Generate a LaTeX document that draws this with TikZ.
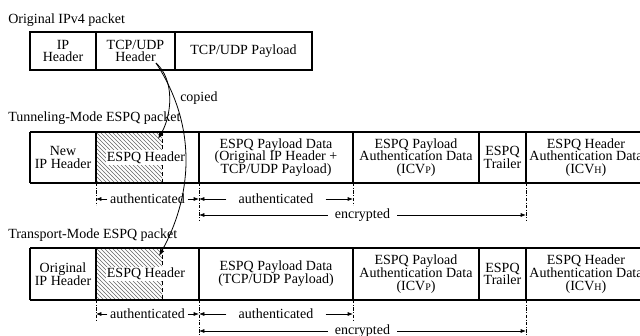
\documentclass[tikz,border=0pt]{standalone}
\usepackage{fontspec}
\setmainfont{Liberation Serif}
\usetikzlibrary{arrows.meta,patterns}
\newcommand\icvsub[1]{{\fontsize{7.5}{8}\selectfont #1}}

\begin{document}
\begin{tikzpicture}[x=0.75pt,y=0.75pt,yscale=-1,xscale=1,
    font=\fontsize{10.5}{9.6}\selectfont,
    box/.style={line width=1.3pt},
    txt/.style={align=center,inner sep=0pt},
    hdr/.style={anchor=west,inner sep=0pt},
    lbl/.style={inner ysep=0pt,inner xsep=2pt},
    guide/.style={line width=0.5pt,dash pattern=on 2.5pt off 1.2pt on 0.6pt off 1.2pt},
    tip/.style={line width=0.5pt,-{Latex[length=4pt,width=3pt]}},
    hatch/.style={pattern=north west lines,pattern color=black!60},
    cpy/.style={line width=0.6pt,-{Latex[length=5pt,width=3.5pt]}}]
        \useasboundingbox (0,0) rectangle (640,336);

        % Hatched part of the headers
        \fill [hatch] (96,132) rectangle (162,183);
        \draw [line width=0.6pt,densely dashed] (162,132) -- (162,183);
        \fill [hatch] (96,248) rectangle (162,300);
        \draw [line width=0.6pt,densely dashed] (162,248) -- (162,300);

        % Original IPv4 packet
        \node [hdr] (orig) at (8,20) {Original IPv4 packet};
        \draw [box] (30,32) rectangle (312,70);
        \draw [box] (96,32) -- (96,70) (175,32) -- (175,70);
        \node [txt] (iphdr) at (63,51) {IP\\Header};
        \node [txt] (tcphdr) at (135.5,51) {TCP/UDP\\Header};
        \node [txt] (tcppay) at (243.5,51) {TCP/UDP Payload};
        \coordinate (cpysrc) at (156,63);
        \node [hdr] (copied) at (180,98) {copied};

        % Tunneling-Mode ESPQ packet
        \node [hdr] (tun) at (8,118) {Tunneling-Mode ESPQ packet};
        \draw [box] (30,132) -- (646,132) (30,183) -- (646,183) (30,132) -- (30,183);
        \draw [box] (96,132) -- (96,183) (199,132) -- (199,183) (353,132) -- (353,183)
                    (479,132) -- (479,183) (526,132) -- (526,183);
        \node [txt] (newip) at (63,157.5) {New\\IP Header};
        \node [txt,fill=white,inner sep=1pt] (tespq) at (146,157.5) {ESPQ Header};
        \node [txt] (tpay) at (276,157.5) {ESPQ Payload Data\\(Original IP Header +\\TCP/UDP Payload)};
        \node [txt] (ticvp) at (416,157.5) {ESPQ Payload\\Authentication Data\\(ICV\icvsub{P})};
        \node [txt] (ttrl) at (502.5,157.5) {ESPQ\\Trailer};
        \node [txt] (ticvh) at (586,157.5) {ESPQ Header\\Authentication Data\\(ICV\icvsub{H})};
        \coordinate (ta) at (96,183);
        \coordinate (tb) at (199,183);
        \coordinate (tc) at (353,183);
        \coordinate (td) at (526,183);
        \draw [guide] (ta) -- ++(0,22) (tc) -- ++(0,22);
        \draw [guide] (tb) -- ++(0,37) (td) -- ++(0,37);
        \node [lbl] (tau1) at (147.5,199) {authenticated};
        \draw [tip] (tau1.west) -- (tau1.west -| ta);
        \draw [tip] (tau1.east) -- (tau1.east -| tb);
        \node [lbl,inner xsep=9pt] (tau2) at (276,199) {authenticated};
        \draw [tip] (tau2.west) -- (tau2.west -| tb);
        \draw [tip] (tau2.east) -- (tau2.east -| tc);
        \node [lbl,inner xsep=5pt] (tenc) at (362.5,215) {encrypted};
        \draw [tip] (tenc.west) -- (tenc.west -| tb);
        \draw [tip] (tenc.east) -- (tenc.east -| td);
        \coordinate (thit) at (158,139);

        % Transport-Mode ESPQ packet
        \node [hdr] (trn) at (8,235) {Transport-Mode ESPQ packet};
        \draw [box] (30,248) -- (646,248) (30,300) -- (646,300) (30,248) -- (30,300);
        \draw [box] (96,248) -- (96,300) (199,248) -- (199,300) (353,248) -- (353,300)
                    (479,248) -- (479,300) (526,248) -- (526,300);
        \node [txt] (origip) at (63,274) {Original\\IP Header};
        \node [txt,fill=white,inner sep=1pt] (pespq) at (146,274) {ESPQ Header};
        \node [txt] (ppay) at (276,274) {ESPQ Payload Data\\(TCP/UDP Payload)};
        \node [txt] (picvp) at (416,274) {ESPQ Payload\\Authentication Data\\(ICV\icvsub{P})};
        \node [txt] (ptrl) at (502.5,274) {ESPQ\\Trailer};
        \node [txt] (picvh) at (586,274) {ESPQ Header\\Authentication Data\\(ICV\icvsub{H})};
        \coordinate (pa) at (96,300);
        \coordinate (pb) at (199,300);
        \coordinate (pc) at (353,300);
        \coordinate (pd) at (526,300);
        \draw [guide] (pa) -- ++(0,21) (pc) -- ++(0,21);
        \draw [guide] (pb) -- ++(0,36) (pd) -- ++(0,36);
        \node [lbl] (pau1) at (147.5,314) {authenticated};
        \draw [tip] (pau1.west) -- (pau1.west -| pa);
        \draw [tip] (pau1.east) -- (pau1.east -| pb);
        \node [lbl,inner xsep=9pt] (pau2) at (276,314) {authenticated};
        \draw [tip] (pau2.west) -- (pau2.west -| pb);
        \draw [tip] (pau2.east) -- (pau2.east -| pc);
        \node [lbl,inner xsep=5pt] (penc) at (362.5,331) {encrypted};
        \draw [tip] (penc.west) -- (penc.west -| pb);
        \draw [tip] (penc.east) -- (penc.east -| pd);
        \coordinate (phit) at (159,256);

        % Connection
        \draw [cpy] (cpysrc) .. controls (175,80) and (172,115) .. (thit);
        % Connection
        \draw [cpy] (cpysrc) .. controls (200,130) and (190,200) .. (phit);

\end{tikzpicture}
\end{document}
